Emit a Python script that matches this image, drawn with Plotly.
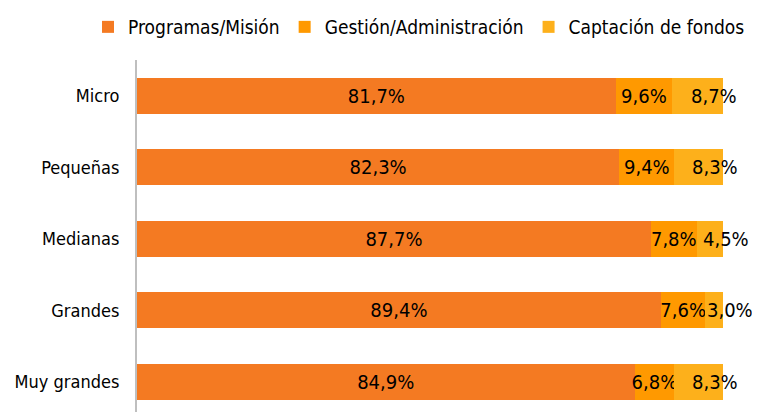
import plotly.graph_objects as go

categorias = ["Micro", "Pequeñas", "Medianas", "Grandes", "Muy grandes"]
programas = [81.7, 82.3, 87.7, 89.4, 84.9]
gestion = [9.6, 9.4, 7.8, 7.6, 6.8]
captacion = [8.7, 8.3, 4.5, 3.0, 8.3]

series = [
    ("Programas/Misión", programas, "#F47A22"),
    ("Gestión/Administración", gestion, "#FF9900"),
    ("Captación de fondos", captacion, "#FDB01B"),
]

FONT = "DejaVu Sans Condensed, Liberation Sans Narrow, Noto Sans"


def pct(v):
    return f"{v:.1f}%".replace(".", ",")


fig = go.Figure()
for i, (name, vals, color) in enumerate(series):
    # the last series gets its labels as annotations (shifted like the original)
    fig.add_trace(
        go.Bar(
            y=categorias,
            x=vals,
            name=name,
            orientation="h",
            marker=dict(color=color, line=dict(width=0)),
            text=[pct(v) for v in vals] if i < 2 else None,
            textposition="inside",
            insidetextanchor="middle",
            textangle=0,
            textfont=dict(family=FONT, size=20, color="black"),
            constraintext="none",
            hoverinfo="skip",
        )
    )

for cat, p, g, c in zip(categorias, programas, gestion, captacion):
    fig.add_annotation(
        x=p + g + c / 2,
        y=cat,
        text=pct(c),
        showarrow=False,
        xshift=16,
        font=dict(family=FONT, size=20, color="black"),
    )

# body of the html page adds 8px offset, so shrink the figure accordingly
fig.update_layout(
    width=752,
    height=404,
    barmode="stack",
    bargap=0.5,
    plot_bgcolor="white",
    paper_bgcolor="white",
    margin=dict(l=129, r=37, t=52, b=0),
    font=dict(family=FONT, size=18, color="black"),
    uniformtext=dict(mode="show", minsize=20),
    legend=dict(
        orientation="h",
        x=-0.0836,
        xanchor="left",
        y=1.1477,
        yanchor="top",
        font=dict(family=FONT, size=19, color="black"),
        traceorder="normal",
        itemclick=False,
        itemwidth=30,
    ),
    showlegend=True,
)
fig.update_xaxes(visible=False, range=[0, 100], fixedrange=True)
fig.update_yaxes(
    categoryorder="array",
    categoryarray=categorias,
    range=[4.423, -0.5],
    automargin=False,
    showline=True,
    linecolor="#BFBFBF",
    linewidth=2,
    ticks="",
    ticklabelstandoff=12,
    showgrid=False,
    tickfont=dict(family=FONT, size=18, color="black"),
)

fig.write_html("out.html")
